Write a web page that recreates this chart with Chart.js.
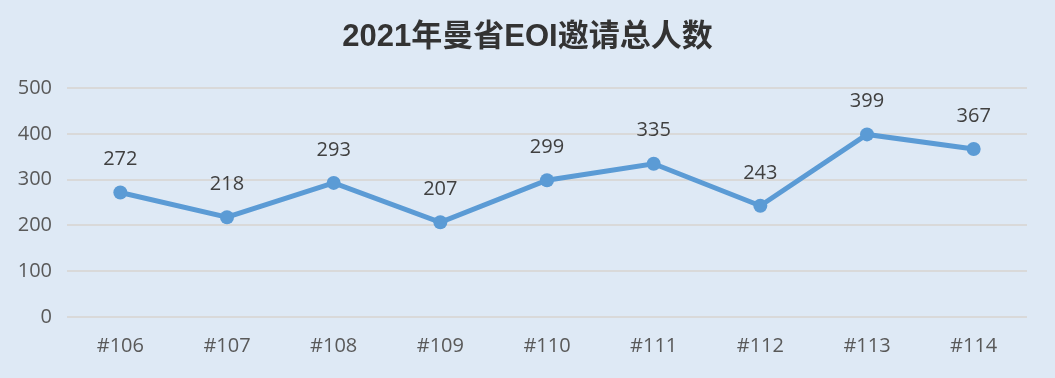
<!DOCTYPE html>
<html><head><meta charset="utf-8">
<script src="https://cdn.jsdelivr.net/npm/chart.js@4"></script>
<style>html,body{margin:0;padding:0;background:#dee9f5;}#w{width:1055px;height:378px;}</style>
</head><body><div id="w"><canvas id="c"></canvas></div>
<script>
const categories = ["#106","#107","#108","#109","#110","#111","#112","#113","#114"];
const invitations = [272,218,293,207,299,335,243,399,367];
const yTicks = [0,100,200,300,400,500];
const titleText = "2021年曼省EOI邀请总人数";

const labelPlugin = {
  id: 'dl',
  afterDatasetsDraw(chart) {
    const ctx = chart.ctx;
    const meta = chart.getDatasetMeta(0);
    ctx.save();
    ctx.font = '20px "Open Sans", "Liberation Sans", sans-serif';
    ctx.fillStyle = '#404040';
    ctx.textAlign = 'center';
    ctx.textBaseline = 'middle';
    meta.data.forEach((p, i) => {
      ctx.fillText(String(invitations[i]), p.x, p.y - 33);
    });
    ctx.restore();
  }
};

new Chart(document.getElementById('c'), {
  type: 'line',
  data: {
    labels: categories,
    datasets: [{
      data: invitations,
      borderColor: '#5b9bd5',
      backgroundColor: '#5b9bd5',
      borderWidth: 5,
      pointRadius: 7,
      pointHoverRadius: 7,
      pointBorderWidth: 0,
      tension: 0
    }]
  },
  options: {
    responsive: true,
    maintainAspectRatio: false,
    animation: false,
    layout: { padding: { left: 0, right: 0, top: 0, bottom: 3 } },
    plugins: {
      legend: { display: false },
      tooltip: { enabled: false },
      title: {
        display: true,
        text: titleText,
        color: '#333333',
        font: { size: 31, weight: 'bold', family: '"Liberation Sans", "Noto Sans CJK SC", sans-serif' },
        padding: { top: 19, bottom: 32 }
      }
    },
    scales: {
      x: {
        offset: true,
        grid: { display: false, drawTicks: false },
        border: { display: false },
        ticks: { color: '#595959', padding: 17, font: { size: 20, family: '"Open Sans", "Liberation Sans", sans-serif' } }
      },
      y: {
        min: 0, max: 500,
        afterBuildTicks(scale) { scale.ticks = yTicks.map(v => ({ value: v })); },
        afterFit(scale) { scale.width = 67; },
        grid: { color: '#d9d9d9', lineWidth: 2, drawTicks: false },
        border: { display: false },
        ticks: { color: '#595959', padding: 15, font: { size: 20, family: '"Open Sans", "Liberation Sans", sans-serif' } }
      },
      yRight: {
        position: 'right',
        min: 0, max: 500,
        afterFit(scale) { scale.width = 28; },
        grid: { display: false, drawTicks: false },
        border: { display: false },
        ticks: { display: false }
      }
    }
  },
  plugins: [labelPlugin]
});
</script></body></html>
